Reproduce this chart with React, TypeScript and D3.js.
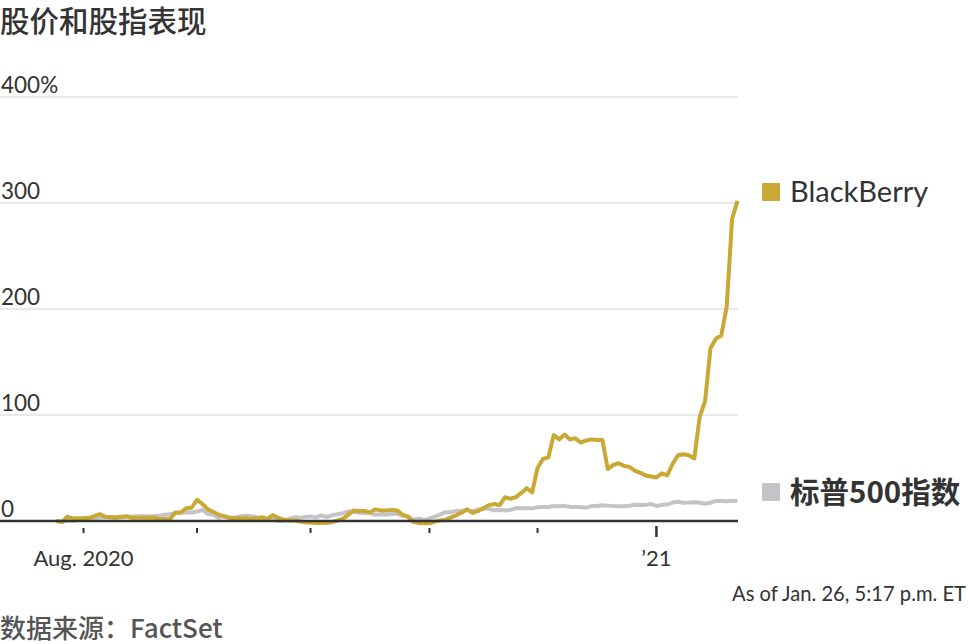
import React from "react";
import * as d3 from "d3";

// ---- Data (percent change since Jul 27, 2020; one value per trading day) ----
const startDate = "2020-07-27";
const endDate = "2021-01-26";
const marketHolidays = ["2020-09-07", "2020-11-26", "2020-12-25", "2021-01-01", "2021-01-18"];

const blackberryPct = [
  0, -1, 4, 2.5, 2.5, 2.5, 3, 4.5, 6.5, 4,
  3.5, 3.5, 3.5, 4.5, 3, 3, 3, 3, 3, 2,
  2, 2, 8, 8, 12, 12.5, 20, 16, 11, 8.5,
  6, 4.3, 3, 2.5, 2.5, 2.5, 2, 2.5, 3.5, 2,
  5.5, 3, 1.5, 0.5, 0.5, -0.5, -1.3, -1.5, -2, -2,
  -1.8, -1, 0.5, 2, 6, 10, 9.5, 9.5, 8, 11,
  10, 10, 10.5, 10, 6, 4, -0.8, -1.8, -2.2, -2.2,
  -0.6, 0.6, 1.3, 3.5, 5.5, 8, 11, 7.6, 9.5, 12,
  15, 16, 15, 22.5, 21, 22.5, 26.5, 31, 27, 50,
  58.5, 60, 81, 77, 81.5, 77, 78, 74, 76, 77,
  76.5, 76.5, 49, 53, 54.5, 52, 51, 47.5, 45.5, 43,
  42, 41, 45, 43, 54, 62, 63, 62, 59, 98,
  113, 163, 172, 175, 202, 285, 302,
];

const sp500Pct = [
  0, -0.65, 0.59, 0.21, 0.98, 1.7, 2.07, 2.73, 3.39, 3.45,
  3.74, 2.91, 4.35, 4.14, 4.12, 4.4, 4.64, 4.18, 4.51, 4.87,
  5.92, 6.3, 7.39, 7.57, 8.29, 8.05, 8.87, 10.54, 6.66, 5.79,
  2.85, 4.93, 3.08, 3.14, 4.45, 4.99, 4.51, 3.63, 2.47, 1.29,
  2.35, -0.08, 0.22, 1.82, 3.46, 2.97, 3.82, 4.36, 3.37, 5.22,
  3.75, 5.56, 6.4, 7.34, 9.1, 8.41, 7.69, 7.53, 7.54, 5.79,
  6.29, 6.06, 6.61, 6.98, 4.99, 4.67, 0.98, 2.18, 0.94, 2.19,
  4.01, 6.3, 8.37, 8.34, 9.6, 9.45, 10.29, 9.19, 10.67, 11.96,
  11.43, 10.14, 10.57, 9.82, 10.44, 12.22, 12.05, 12.32, 11.8, 13.06,
  13.26, 13.19, 14.19, 13.97, 14.29, 13.38, 13.23, 13.09, 12.6, 14.05,
  14.25, 14.91, 14.51, 14.06, 13.83, 13.91, 14.31, 15.31, 15.05, 15.21,
  15.95, 14.24, 15.05, 15.7, 17.42, 18.07, 17.29, 17.34, 17.61, 17.17,
  16.33, 17.27, 18.91, 18.94, 18.59, 19.01, 18.84,
];

const yTicks = [0, 100, 200, 300, 400];
const yTickLabels = ["0", "100", "200", "300", "400%"];
const xTickLabels: Record<string, string> = { "2020-08": "Aug. 2020", "2021-01": "\u201921" };

const seriesNames = ["BlackBerry", "标普500指数"];
const seriesColors = ["#c9a833", "#c4c4c8"];

const title = "股价和股指表现";
const note = "As of Jan. 26, 5:17 p.m. ET";
const source = "数据来源：FactSet";

// ---- trading calendar ----
const fmt = d3.timeFormat("%Y-%m-%d");
const parse = d3.timeParse("%Y-%m-%d");
const tradingDays = d3
  .timeDay.range(parse(startDate)!, d3.timeDay.offset(parse(endDate)!, 1))
  .filter((d) => d.getDay() !== 0 && d.getDay() !== 6 && !marketHolidays.includes(fmt(d)));

const monthStarts: number[] = [];
tradingDays.forEach((d, i) => {
  if (i > 0 && d.getMonth() !== tradingDays[i - 1].getMonth()) monthStarts.push(i);
});

export default function App() {
  const W = 968;
  const H = 644;
  const x = d3.scaleLinear().domain([0, blackberryPct.length - 1]).range([56.5, 737.5]);
  const y = d3.scaleLinear().domain([0, 400]).range([521, 97]);
  const line = d3
    .line<number>()
    .x((_, i) => x(i))
    .y((v) => y(v));

  const latin = "Lato, 'Open Sans', 'Noto Sans', sans-serif";
  const cjk = "'Noto Sans CJK SC', 'Noto Sans', sans-serif";

  return (
    <svg
      width={W}
      height={H}
      style={{ position: "absolute", left: 0, top: 0, background: "#fff" }}
    >
      <text x={0} y={32} fontFamily={cjk} fontWeight={500} fontSize={29.5} fill="#333">
        {title}
      </text>

      {/* gridlines */}
      {yTicks.map((t) =>
        t === 0 ? null : (
          <line key={"g" + t} x1={0} x2={738} y1={y(t)} y2={y(t)} stroke="#e2e2e2" strokeWidth={1.5} />
        )
      )}
      {yTicks.map((t, i) => (
        <text key={"yl" + t} x={1} y={y(t) - 4} fontFamily={latin} fontSize={22.5} fill="#333">
          {yTickLabels[i]}
        </text>
      ))}

      {/* series */}
      <path d={line(sp500Pct) || ""} fill="none" stroke={seriesColors[1]} strokeWidth={4} strokeLinejoin="round" />
      <path d={line(blackberryPct) || ""} fill="none" stroke={seriesColors[0]} strokeWidth={4} strokeLinejoin="round" />

      {/* baseline */}
      <line x1={0} x2={738} y1={y(0)} y2={y(0)} stroke="#333" strokeWidth={2.5} />

      {/* x ticks */}
      {monthStarts.map((i) => {
        const d = tradingDays[i];
        const key = d3.timeFormat("%Y-%m")(d);
        const isYear = d.getMonth() === 0;
        const label = xTickLabels[key];
        return (
          <g key={"xt" + i}>
            <line
              x1={x(i)}
              x2={x(i)}
              y1={isYear ? 526 : 528}
              y2={isYear ? 537 : 533}
              stroke="#333"
              strokeWidth={isYear ? 2.5 : 2}
            />
            {label && (
              <text x={x(i)} y={566} textAnchor="middle" fontFamily={latin} fontSize={22} fill="#333">
                {label}
              </text>
            )}
          </g>
        );
      })}

      {/* legend */}
      <rect x={762} y={183} width={18} height={18} fill={seriesColors[0]} />
      <text x={790} y={202} fontFamily={latin} fontSize={29} fill="#333">
        {seriesNames[0]}
      </text>
      <rect x={762} y={483} width={18} height={18} fill={seriesColors[1]} />
      <text x={790} y={503} fontFamily={cjk} fontWeight={700} fontSize={29.5} fill="#333">
        {seriesNames[1]}
      </text>

      <text
        x={966}
        y={601}
        textAnchor="end"
        fontFamily={latin}
        fontSize={22}
        fill="#333"
        textLength={234}
        lengthAdjust="spacingAndGlyphs"
      >
        {note}
      </text>
      <text x={0} y={638} fontFamily={cjk} fontWeight={500} fontSize={26} fill="#555">
        {source}
      </text>
    </svg>
  );
}
